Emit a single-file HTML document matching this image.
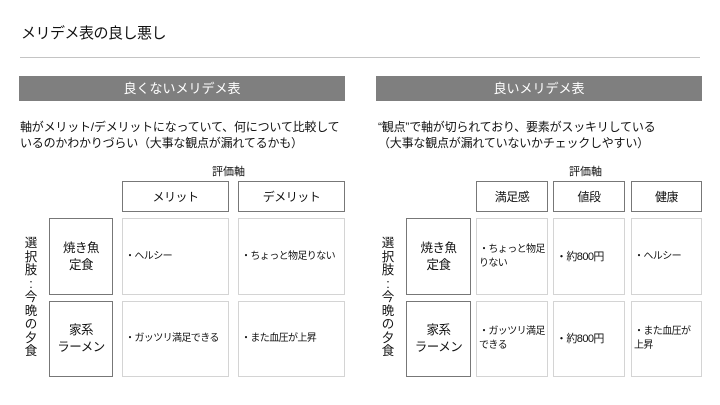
<!DOCTYPE html>
<html><head><meta charset="utf-8"><style>
body{margin:0;width:720px;height:405px;background:#fff;position:relative;overflow:hidden;font-family:"Liberation Sans","Noto Sans CJK JP",sans-serif;color:#111}
.a{position:absolute}
.bar{position:absolute;background:#7f7f7f;color:#fff;font-size:13px;text-align:center;line-height:25px;height:25px}
.hd{position:absolute;border:1px solid #777;box-sizing:border-box;display:flex;align-items:center;justify-content:center;font-size:12px;letter-spacing:-0.5px}
.rl{position:absolute;border:1px solid #777;box-sizing:border-box;display:flex;align-items:center;justify-content:center;text-align:center;font-size:12.5px;line-height:17px;letter-spacing:-0.5px}
.c{position:absolute;border:1px solid #d4d4d4;box-sizing:border-box;display:flex;align-items:center;font-size:10px;line-height:14px;padding-left:2px;letter-spacing:-0.6px;white-space:nowrap}
.desc{position:absolute;font-size:12px;line-height:16px;letter-spacing:-0.2px;white-space:nowrap}
.vt{position:absolute;font-size:12.5px;line-height:13.5px;width:14px;text-align:center}
</style></head><body>
<div class="a" style="left:21px;top:22px;font-size:15px;letter-spacing:-0.5px">メリデメ表の良し悪し</div>
<div class="a" style="left:20px;top:57px;width:680px;height:1px;background:#c4c4c4"></div>

<div class="bar" style="left:19px;top:76px;width:326px">良くないメリデメ表</div>
<div class="desc" style="left:20px;top:119px">軸がメリット/デメリットになっていて、何について比較して<br>いるのかわかりづらい（大事な観点が漏れてるかも）</div>
<div class="a" style="left:212px;top:163px;font-size:11px">評価軸</div>
<div class="hd" style="left:122px;top:181px;width:107px;height:31px">メリット</div>
<div class="hd" style="left:238px;top:181px;width:107px;height:31px">デメリット</div>
<div class="vt" style="left:24px;top:237px">選<br>択<br>肢<br>:<br>今<br>晩<br>の<br>夕<br>食</div>
<div class="rl" style="left:49px;top:218px;width:64px;height:77px">焼き魚<br>定食</div>
<div class="rl" style="left:49px;top:301px;width:64px;height:76px">家系<br>ラーメン</div>
<div class="c" style="left:122px;top:218px;width:107px;height:77px">・ヘルシー</div>
<div class="c" style="left:238px;top:218px;width:107px;height:77px">・ちょっと物足りない</div>
<div class="c" style="left:122px;top:301px;width:107px;height:76px">・ガッツリ満足できる</div>
<div class="c" style="left:238px;top:301px;width:107px;height:76px">・また血圧が上昇</div>

<div class="bar" style="left:376px;top:76px;width:326px">良いメリデメ表</div>
<div class="desc" style="left:378px;top:119px">“観点”で軸が切られており、要素がスッキリしている<br>（大事な観点が漏れていないかチェックしやすい）</div>
<div class="a" style="left:569px;top:163px;font-size:11px">評価軸</div>
<div class="hd" style="left:476px;top:181px;width:72px;height:31px">満足感</div>
<div class="hd" style="left:553px;top:181px;width:72px;height:31px">値段</div>
<div class="hd" style="left:631px;top:181px;width:71px;height:31px">健康</div>
<div class="vt" style="left:381px;top:237px">選<br>択<br>肢<br>:<br>今<br>晩<br>の<br>夕<br>食</div>
<div class="rl" style="left:406px;top:218px;width:65px;height:77px">焼き魚<br>定食</div>
<div class="rl" style="left:406px;top:301px;width:65px;height:76px">家系<br>ラーメン</div>
<div class="c" style="left:476px;top:218px;width:72px;height:77px">・ちょっと物足<br>りない</div>
<div class="c" style="left:553px;top:218px;width:72px;height:77px;font-size:11px">・約800円</div>
<div class="c" style="left:631px;top:218px;width:71px;height:77px">・ヘルシー</div>
<div class="c" style="left:476px;top:301px;width:72px;height:76px">・ガッツリ満足<br>できる</div>
<div class="c" style="left:553px;top:301px;width:72px;height:76px;font-size:11px">・約800円</div>
<div class="c" style="left:631px;top:301px;width:71px;height:76px">・また血圧が<br>上昇</div>
</body></html>
